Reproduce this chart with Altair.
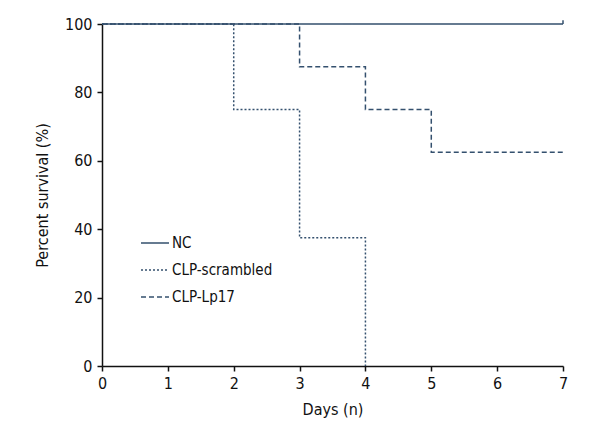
import altair as alt
import pandas as pd

groups = ["NC", "CLP-scrambled", "CLP-Lp17"]
nc_days = [0, 7]
nc_surv = [100, 100]
scr_days = [0, 2, 3, 4]
scr_surv = [100, 75, 37.5, 0]
lp_days = [0, 3, 4, 5, 7]
lp_surv = [100, 87.5, 75, 62.5, 62.5]
censor_days = [7]
censor_surv = [100]

rows = []
for g, d, s in [(groups[0], nc_days, nc_surv), (groups[1], scr_days, scr_surv), (groups[2], lp_days, lp_surv)]:
    for a, b in zip(d, s):
        rows.append({"group": g, "day": a, "surv": b})
df = pd.DataFrame(rows)
cens = pd.DataFrame({"group": ["NC"] * len(censor_days), "day": censor_days, "surv": censor_surv})

FONT = "DejaVu Sans Condensed, Roboto Condensed, Roboto, sans-serif"
COL = "#34506e"

x = alt.X("day:Q", scale=alt.Scale(domain=[0, 7], nice=False, zero=False),
          axis=alt.Axis(title="Days (n)", values=list(range(8)), format="d", labelFlush=False))
y = alt.Y("surv:Q", scale=alt.Scale(domain=[0, 100], nice=False),
          axis=alt.Axis(title="Percent survival (%)", values=[0, 20, 40, 60, 80, 100], labelFlush=False))

lines = alt.Chart(df).mark_line(interpolate="step-after", strokeWidth=1.5, color=COL).encode(
    x=x, y=y,
    strokeDash=alt.StrokeDash("group:N",
        scale=alt.Scale(domain=groups, range=[[1, 0], [2, 2], [5, 3]]),
        legend=alt.Legend(title=None, orient="none", legendX=38, legendY=204,
                          symbolType="stroke", symbolSize=784, symbolStrokeWidth=1.5,
                          symbolStrokeColor=COL, labelFontSize=15, labelFont=FONT,
                          labelColor="#111", rowPadding=4, labelOffset=2)),
)

ticks = alt.Chart(cens).mark_point(shape="M0,0V-1", size=60, stroke=COL, strokeWidth=1.5,
                                   filled=False, opacity=1).encode(x=x, y=y)

chart = alt.layer(lines, ticks).properties(
    width=461, height=342,
    padding={"left": 94, "top": 16, "right": 29, "bottom": 66},
    autosize=alt.AutoSizeParams(type="none"),
).configure_view(stroke=None).configure_axis(
    grid=False, domainColor="#111", tickColor="#111", domainWidth=1.5, tickWidth=1.5,
    tickSize=5, labelFont=FONT, titleFont=FONT, labelFontSize=16, titleFontSize=16,
    labelColor="#111", titleColor="#111", titleFontWeight="normal", labelPadding=4,
).configure_axisX(titlePadding=10).configure_axisY(titlePadding=14, labelPadding=5)

chart.save("out.html", embed_options={"renderer": "svg", "actions": False})
